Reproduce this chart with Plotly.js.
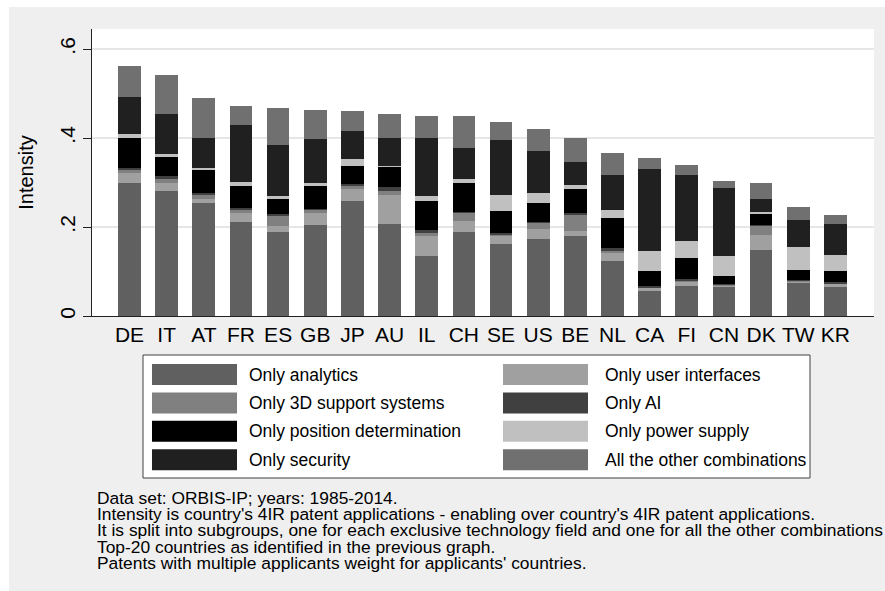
<!DOCTYPE html>
<html>
<head>
<meta charset="utf-8">
<script src="https://cdn.plot.ly/plotly-3.0.1.min.js"></script>
<style>
  html, body { margin: 0; padding: 0; background: #ffffff; width: 885px; height: 591px; overflow: hidden; }
  #chart { position: absolute; left: 9px; top: 7px; width: 876px; height: 584px; }
</style>
</head>
<body>
<div id="chart"></div>
<script>
// ---- data ----
const countries = ['DE','IT','AT','FR','ES','GB','JP','AU','IL','CH','SE','US','BE','NL','CA','FI','CN','DK','TW','KR'];

const onlyAnalytics      = [0.300,0.282,0.253,0.212,0.1895,0.2045,0.259,0.2067,0.1348,0.188,0.1618,0.1723,0.1798,0.1236,0.057,0.068,0.066,0.1483,0.0749,0.066];
const onlyUserInterfaces = [0.021,0.018,0.0097,0.0187,0.0128,0.026,0.0255,0.065,0.045,0.026,0.018,0.0225,0.012,0.0172,0.005,0.008,0.002,0.033,0.0017,0.006];
const only3DSupport      = [0.0075,0.0075,0.0083,0.0083,0.023,0.007,0.0075,0.0097,0.0075,0.0165,0.002,0.0135,0.035,0.006,0.002,0.002,0.001,0.021,0.002,0.001];
const onlyAI             = [0.005,0.0075,0.0045,0.0045,0.005,0.004,0.0045,0.0075,0.006,0.0037,0.0037,0.0037,0.005,0.005,0.003,0.0045,0.003,0.002,0.002,0.003];
const onlyPosition       = [0.067,0.042,0.052,0.0487,0.0337,0.050,0.0404,0.045,0.066,0.0637,0.050,0.0412,0.0547,0.0674,0.0337,0.0472,0.018,0.024,0.0225,0.026];
const onlyPowerSupply    = [0.0076,0.006,0.005,0.0097,0.005,0.0075,0.0157,0.003,0.0105,0.0097,0.0375,0.024,0.009,0.0187,0.045,0.039,0.045,0.005,0.051,0.036];
const onlySecurity       = [0.0845,0.0915,0.0674,0.1274,0.1146,0.0989,0.0629,0.0636,0.131,0.0704,0.122,0.0936,0.050,0.0794,0.1858,0.1476,0.1535,0.030,0.0614,0.0697];
const otherCombinations  = [0.070,0.0876,0.0899,0.0427,0.0839,0.066,0.045,0.0532,0.0487,0.0712,0.0404,0.0487,0.0555,0.0494,0.0247,0.023,0.0142,0.0345,0.030,0.020];

const seriesNames = ['Only analytics','Only user interfaces','Only 3D support systems','Only AI',
                     'Only position determination','Only power supply','Only security','All the other combinations'];
const seriesValues = [onlyAnalytics, onlyUserInterfaces, only3DSupport, onlyAI,
                      onlyPosition, onlyPowerSupply, onlySecurity, otherCombinations];
const seriesColors = ['#606060','#a0a0a0','#808080','#404040','#000000','#c0c0c0','#202020','#707070'];

const yTickVals = [0, 0.2, 0.4, 0.6];
const yTickText = ['0', '.2', '.4', '.6'];

const noteLines = [
  'Data set: ORBIS-IP; years: 1985-2014.',
  "Intensity is country's 4IR patent applications - enabling over country's 4IR patent applications.",
  'It is split into subgroups, one for each exclusive technology field and one for all the other combinations',
  'Top-20 countries as identified in the previous graph.',
  "Patents with multiple applicants weight for applicants' countries."
];

// ---- layout helpers (page pixel -> paper coords) ----
const PL = 92, PR = 874, PT = 29, PB = 316;
const px = x => (x - PL) / (PR - PL);
const py = y => (PB - y) / (PB - PT);
const FONT = 'Liberation Sans, Arial, Helvetica, sans-serif';

const traces = seriesNames.map((name, i) => ({
  type: 'bar',
  name: name,
  x: countries,
  y: seriesValues[i],
  marker: { color: seriesColors[i], line: { width: 0 } },
  showlegend: false,
  hoverinfo: 'x+y+name'
}));

const shapes = [];
const annotations = [];

// legend box
shapes.push({ type: 'rect', xref: 'paper', yref: 'paper', x0: px(143), x1: px(810), y0: py(355), y1: py(478),
  line: { color: '#404040', width: 1 }, fillcolor: '#ffffff', layer: 'above' });

const rowY0 = 374.5, rowStep = 28.4;
const colSwatchX = [152, 503], colTextX = [247, 603];
seriesNames.forEach((name, i) => {
  const col = i % 2, row = Math.floor(i / 2);
  const cy = rowY0 + row * rowStep;
  shapes.push({ type: 'rect', xref: 'paper', yref: 'paper',
    x0: px(colSwatchX[col]), x1: px(colSwatchX[col] + 85), y0: py(cy - 10.5), y1: py(cy + 10.5),
    line: { width: 0 }, fillcolor: seriesColors[i], layer: 'above' });
  annotations.push({ xref: 'paper', yref: 'paper', x: px(colTextX[col]), y: py(cy),
    xanchor: 'left', yanchor: 'middle', showarrow: false, text: name,
    font: { family: FONT, size: 17.5, color: '#000' } });
});

noteLines.forEach((t, i) => {
  annotations.push({ xref: 'paper', yref: 'paper', x: px(95), y: py(497.5 + i * 16.4),
    xanchor: 'left', yanchor: 'middle', showarrow: false, text: t,
    font: { family: FONT, size: 17.4, color: '#000' } });
});

const layout = {
  width: 876, height: 584,
  paper_bgcolor: '#efefef',
  plot_bgcolor: '#ffffff',
  margin: { l: PL - 9, r: 885 - PR, t: PT - 7, b: 584 - (PB - 7), pad: 0 },
  barmode: 'stack',
  bargap: 0.39,
  font: { family: FONT, color: '#000' },
  xaxis: {
    type: 'category',
    range: [-1.01, 20.04],
    showline: true, linecolor: '#222', linewidth: 1,
    ticks: '', showgrid: false, zeroline: false,
    tickfont: { family: FONT, size: 21, color: '#000' },
    fixedrange: true
  },
  yaxis: {
    range: [0, 0.645],
    tickvals: yTickVals, ticktext: yTickText,
    tickangle: -90,
    ticks: 'outside', ticklen: 8, tickcolor: '#222', tickwidth: 1,
    showline: true, linecolor: '#222', linewidth: 1,
    showgrid: true, gridcolor: '#e6e6e6', gridwidth: 1.2,
    zeroline: false,
    tickfont: { family: FONT, size: 21, color: '#000' },
    title: { text: 'Intensity', font: { family: FONT, size: 20, color: '#000' }, standoff: 16 },
    fixedrange: true
  },
  shapes: shapes,
  annotations: annotations
};

Plotly.newPlot('chart', traces, layout, { displayModeBar: false, staticPlot: true });
</script>
</body>
</html>
